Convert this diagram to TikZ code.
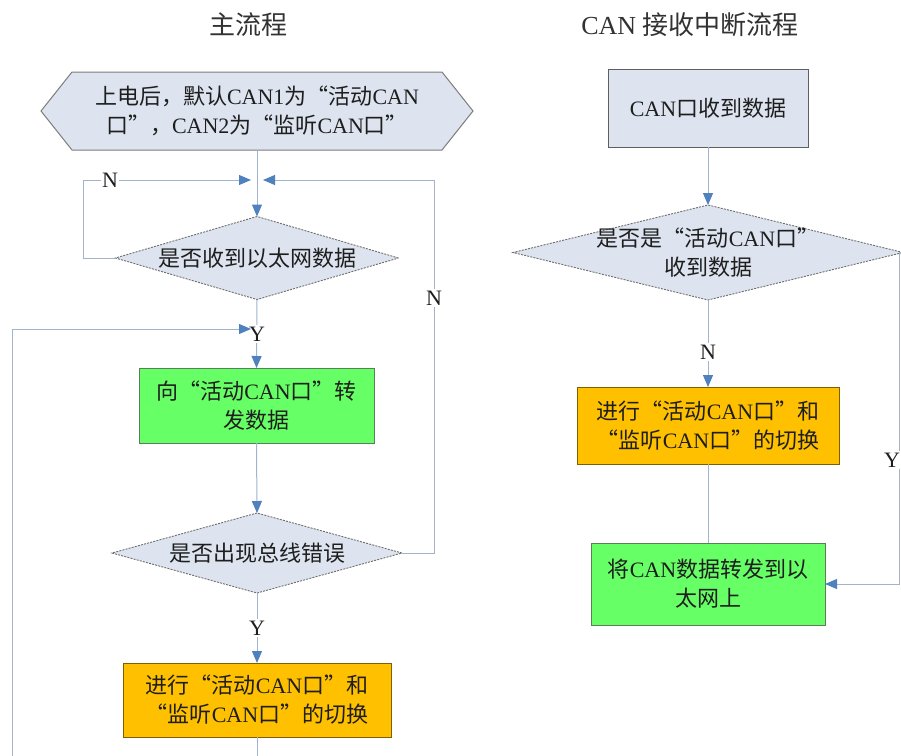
\documentclass[tikz,border=0pt]{standalone}
\usepackage{fontspec}
\setmainfont{Liberation Serif}
\newfontfamily\cjk[RawFeature=+fwid]{Noto Sans CJK SC}
\usetikzlibrary{arrows.meta,shapes.geometric}
\newcommand{\zh}[1]{{\cjk #1}}
\definecolor{lightfill}{RGB}{221,228,239}
\definecolor{linec}{RGB}{160,180,206}
\definecolor{arrowc}{RGB}{79,129,189}
\definecolor{greenf}{RGB}{102,255,102}
\definecolor{greenb}{RGB}{90,125,90}
\definecolor{orangef}{RGB}{255,192,0}
\definecolor{orangeb}{RGB}{127,96,0}
\definecolor{boxb}{RGB}{95,95,95}
\definecolor{hexb}{RGB}{125,125,125}
\definecolor{diab}{RGB}{110,110,110}
\definecolor{textc}{RGB}{30,30,30}
\definecolor{titlec}{RGB}{50,50,50}
\begin{document}
\begin{tikzpicture}[x=1pt,y=-1pt,
  base/.style={font=\fontsize{22}{29}\selectfont, text=textc, align=center, inner sep=0pt, outer sep=0pt},
  titlenode/.style={font=\fontsize{26}{30}\selectfont, text=titlec, inner sep=0pt},
  box/.style={base, rectangle, draw, line width=1pt},
  bluebox/.style={box, draw=boxb, fill=lightfill},
  greenbox/.style={box, draw=greenb, fill=greenf},
  orangebox/.style={box, draw=orangeb, fill=orangef},
  dia/.style={diamond, draw=diab, dash pattern=on 2pt off 1.2pt, fill=lightfill, inner sep=0pt, outer sep=0pt, line width=0.9pt},
  conn/.style={draw=linec, line width=1pt},
  arr/.style={conn, -{Triangle[length=12pt,width=10pt,color=arrowc,fill=arrowc]}},
  lab/.style={base, fill=white, inner sep=1.5pt}
]
\useasboundingbox (0,0) rectangle (901,755);
\fill[white] (0,0) rectangle (901,755);

% titles
\node[titlenode] (t1) at (248,25) {\zh{主流程}};
\node[titlenode] (t2) at (690,25) {CAN \zh{接收中断流程}};

% ===== main flow =====
\filldraw[fill=lightfill, draw=hexb, line width=1pt]
  (41,111) -- (72,72) -- (442,72) -- (473,111) -- (442,150) -- (72,150) -- cycle;
\node[base, minimum width=340pt, minimum height=78pt] (start) at (257,111)
  {\zh{上电后，默认}CAN1\zh{为“活动}CAN\\\zh{口”，}CAN2\zh{为“监听}CAN\zh{口”}};
\coordinate (m) at (257,180);

\node[dia, minimum width=283pt, minimum height=83pt] (d1) at (257,258) {};
\node[base] (d1t) at (d1) {\zh{是否收到以太网数据}};

\node[greenbox, minimum width=235pt, minimum height=75pt] (g1) at (256.5,405.5)
  {\zh{向“活动}CAN\zh{口”转}\\\zh{发数据}};

\node[dia, minimum width=290pt, minimum height=80pt] (d2) at (257,553) {};
\node[base] (d2t) at (d2) {\zh{是否出现总线错误}};

\node[orangebox, minimum width=268pt, minimum height=74pt] (o1) at (257,700)
  {\zh{进行“活动}CAN\zh{口”和}\\\zh{“监听}CAN\zh{口”的切换}};

\draw[conn] (start.south) -- (m);
\draw[arr] (m) -- (d1.north);
\draw[arr] (d1.west) -- (83,258) -- (83,180) -- ([xshift=-6pt]m);
\draw[arr] (d2.east) -- (434,553) -- (434,180) -- ([xshift=6pt]m);
\node[lab] (n1) at (110,180) {N};
\node[lab] (n2) at (434,298) {N};

\draw[arr] (d1.south) -- (g1.north);
\node[lab] (y1) at (257,334) {Y};
\coordinate (loopend) at (251,329);
\draw[arr] (o1.south) -- (257,800) -- (12,800) -- (12,329) -- (loopend);

\draw[arr] (g1.south) -- (d2.north);
\draw[arr] (d2.south) -- (o1.north);
\node[lab] (y2) at (257,628) {Y};

% ===== CAN interrupt flow =====
\node[bluebox, minimum width=200pt, minimum height=78pt] (r1) at (708,108)
  {CAN\zh{口收到数据}};
\node[dia, minimum width=390pt, minimum height=95pt] (d3) at (708,252.5) {};
\node[base] (d3t) at (708,252.5) {\zh{是否是“活动}CAN\zh{口”}\\\zh{收到数据}};

\node[orangebox, minimum width=262pt, minimum height=77pt] (o2) at (708,425.5)
  {\zh{进行“活动}CAN\zh{口”和}\\\zh{“监听}CAN\zh{口”的切换}};
\node[greenbox, minimum width=234pt, minimum height=82pt] (g2) at (708,584)
  {\zh{将}CAN\zh{数据转发到以}\\\zh{太网上}};

\draw[arr] (r1.south) -- (d3.north);
\draw[arr] (d3.south) -- (o2.north);
\node[lab] (n3) at (708,352) {N};
\draw[conn] (o2.south) -- (g2.north);
\draw[arr] (d3.east) -- (899,252.5) -- (899,584) -- (g2.east);
\node[lab] (y3) at (892,460) {Y};
\end{tikzpicture}
\end{document}
